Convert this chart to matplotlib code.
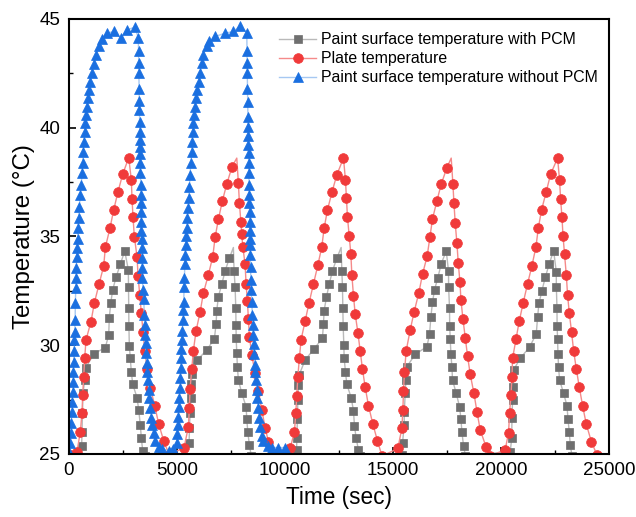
import numpy as np
import matplotlib
matplotlib.use("Agg")
import matplotlib.pyplot as plt
from matplotlib.ticker import MultipleLocator

plt.rcParams['font.family'] = ['Liberation Sans', 'DejaVu Sans']

# Paint surface temperature with PCM (gray squares)
gray_t = [600, 616, 635, 662, 741, 801, 1158, 1695, 1852, 1880, 1945, 2037, 2190, 2389, 2593,
          2760, 2770, 2778, 2786, 2806, 2852, 2898, 2963, 3162, 3241, 3315, 3362, 3426, 3550,
          5570, 5590, 5616, 5649, 5677, 5709, 5954, 6389, 6741, 6820, 6852, 6927, 7084, 7237, 7436, 7621,
          7653, 7700, 7732, 7740, 7750, 7778, 7806, 7852, 8010, 8209, 8241, 8288, 8362, 8450,
          10545, 10556, 10584, 10603, 10631, 10663, 10941, 11357, 11742, 11788, 11820, 11927, 12052, 12205, 12408, 12607,
          12640, 12668, 12686, 12700, 12732, 12747, 12806, 12871, 13070, 13177, 13223, 13302, 13409, 13500,
          15440, 15447, 15524, 15530, 15571, 15603, 15649, 16034, 16576, 16697, 16761, 16834, 16927, 17085, 17237, 17469,
          17575, 17580, 17622, 17630, 17654, 17687, 17733, 17761, 17932, 18085, 18150, 18196, 18270, 18360,
          20432, 20500, 20511, 20540, 20545, 20585, 20896, 21326, 21636, 21697, 21761, 21900, 22053, 22238, 22437,
          22562, 22565, 22594, 22600, 22622, 22640, 22668, 22715, 22900, 23058, 23103, 23164, 23210, 23290]
gray_T = [25.38, 26.03, 26.87, 27.79, 28.4, 28.97, 29.6, 29.89, 30.47, 31.27, 31.93, 32.54, 33.12, 33.72, 34.33,
          33.46, 32.69, 31.7, 30.9, 29.98, 29.4, 28.78, 28.2, 27.59, 27.02, 26.33, 25.72, 25.14, 24.9,
          25.49, 26.18, 26.87, 27.56, 28.2, 28.66, 29.32, 29.78, 30.29, 30.98, 31.59, 32.23, 32.8, 33.41, 34.0, 34.49,
          33.41, 32.69, 31.7, 30.93, 30.32, 29.63, 29.01, 28.4, 27.79, 27.17, 26.61, 26.0, 25.41, 24.9,
          25.18, 25.72, 26.61, 27.48, 28.17, 28.63, 29.32, 29.83, 30.32, 30.98, 31.59, 32.2, 32.8, 33.41, 34.0, 34.49,
          33.41, 32.69, 31.7, 30.89, 30.01, 29.4, 28.78, 28.2, 27.59, 26.99, 26.3, 25.72, 25.18, 24.9,
          24.95, 25.49, 26.33, 26.95, 27.79, 28.4, 29.01, 29.58, 29.93, 30.5, 31.31, 31.97, 32.54, 33.11, 33.74, 34.33,
          33.41, 32.69, 31.7, 30.9, 30.29, 29.6, 28.99, 28.39, 27.79, 27.17, 26.61, 26.0, 25.38, 24.9,
          25.11, 25.72, 26.64, 27.48, 28.09, 28.86, 29.4, 29.91, 30.52, 31.29, 31.93, 32.51, 33.12, 33.74, 34.35,
          33.38, 32.69, 31.7, 30.89, 30.27, 29.6, 28.99, 28.4, 27.79, 27.21, 26.6, 26.0, 25.41, 24.9]
gray_bare = [7621, 12607]

# Plate temperature (red circles)
red_t = [130, 384, 537, 616, 648, 695, 741, 801, 1032, 1185, 1403, 1621, 1695, 1910, 2083, 2283, 2500, 2778,
         2898, 2931, 2977, 3037, 3162, 3209, 3287, 3362, 3440, 3519, 3625, 3778, 3982, 4167, 4398, 4650,
         5338, 5538, 5584, 5616, 5695, 5769, 5894, 6079, 6232, 6463, 6667, 6774, 6927, 7112, 7315, 7561, 7778,
         7852, 7899, 7964, 8010, 8056, 8163, 8209, 8269, 8316, 8362, 8473, 8626, 8778, 8936, 9089, 9241, 9450,
         10246, 10445, 10510, 10556, 10603, 10677, 10755, 10940, 11126, 11325, 11530, 11713, 11820, 11975, 12190, 12408, 12715,
         12806, 12853, 12900, 12978, 13057, 13103, 13177, 13256, 13381, 13487, 13594, 13719, 13872, 14075, 14288, 14500,
         15230, 15417, 15464, 15492, 15538, 15617, 15802, 15987, 16205, 16372, 16589, 16714, 16834, 17038, 17237, 17501, 17700,
         17779, 17826, 17886, 17964, 18025, 18103, 18150, 18242, 18349, 18455, 18580, 18751, 18890, 19043, 19307, 19500,
         20200, 20354, 20400, 20465, 20511, 20540, 20696, 20849, 21034, 21233, 21437, 21622, 21729, 21882, 22099, 22299, 22623,
         22715, 22761, 22826, 22872, 22946, 23025, 23085, 23164, 23270, 23363, 23488, 23627, 23780, 23951, 24183, 24446]
red_T = [24.95, 25.11, 26.0, 26.87, 27.71, 28.55, 29.4, 30.24, 31.08, 31.93, 32.8, 33.64, 34.49, 35.38, 36.22, 37.06, 37.86, 38.62,
         37.6, 36.72, 35.88, 34.99, 34.07, 33.2, 32.31, 31.47, 30.6, 29.74, 28.91, 28.05, 27.21, 26.37, 25.6, 24.95,
         25.29, 26.24, 27.1, 27.99, 28.89, 29.74, 30.66, 31.51, 32.39, 33.23, 34.07, 34.95, 35.79, 36.63, 37.41, 38.21, 38.6,
         37.45, 36.55, 35.68, 35.1, 34.53, 33.72, 32.8, 32.03, 31.21, 30.39, 29.55, 28.71, 27.87, 27.02, 26.21, 25.57, 24.95,
         25.26, 26.0, 26.9, 27.68, 28.55, 29.43, 30.26, 31.11, 31.96, 32.8, 33.68, 34.53, 35.38, 36.22, 37.06, 37.83, 38.6,
         37.6, 36.76, 35.88, 35.04, 34.18, 33.23, 32.28, 31.44, 30.58, 29.74, 28.9, 28.07, 27.22, 26.37, 25.6, 24.9,
         25.25, 26.18, 27.02, 27.91, 28.78, 29.74, 30.7, 31.54, 32.42, 33.26, 34.1, 34.95, 35.8, 36.63, 37.4, 38.16, 38.6,
         37.4, 36.55, 35.6, 34.69, 33.8, 32.92, 32.08, 31.21, 30.35, 29.51, 28.66, 27.79, 26.95, 26.1, 25.34, 24.9,
         25.2, 25.98, 26.87, 27.71, 28.55, 29.4, 30.27, 31.11, 31.96, 32.82, 33.66, 34.52, 35.38, 36.22, 37.06, 37.86, 38.6,
         37.57, 36.72, 35.88, 35.04, 34.18, 33.23, 32.31, 31.47, 30.6, 29.75, 28.91, 28.07, 27.21, 26.37, 25.57, 24.95]
red_bare = [7778, 17700]

# Paint surface temperature without PCM (blue triangles), two cycles only
blue_t = [28, 60, 93, 120, 153, 160, 185, 199, 213, 231, 245, 265, 278, 300, 306, 330, 338, 352, 370, 384, 410,
          431, 463, 491, 537, 583, 616, 648, 676, 695, 741, 769, 801, 847, 894, 954, 1000, 1079, 1158, 1264, 1389,
          1542, 1759, 2111, 2407, 2685, 3070, 3223,
          3232, 3240, 3248, 3256, 3264, 3272, 3280, 3288, 3296, 3304, 3310, 3316, 3322, 3328, 3336, 3344, 3352, 3360,
          3368, 3376, 3384, 3392, 3400, 3410, 3440, 3472, 3500, 3519, 3540, 3555, 3579, 3611, 3625, 3672, 3704,
          3732, 3778, 3824, 3857, 3935, 4010, 4167, 4320, 4630, 4843,
          5000, 5028, 5061, 5075, 5107, 5121, 5153, 5167, 5186, 5200, 5220, 5240, 5260, 5290, 5310, 5320, 5338, 5353,
          5375, 5390, 5417, 5440, 5463, 5491, 5538, 5556, 5584, 5616, 5649, 5695, 5723, 5741, 5769, 5801, 5848, 5894,
          5954, 6019, 6079, 6158, 6232, 6389, 6510, 6778, 7237, 7621, 7931, 8241,
          8250, 8258, 8266, 8274, 8282, 8290, 8298, 8306, 8314, 8322, 8330, 8338, 8346, 8354, 8362, 8370, 8378, 8386,
          8394, 8400, 8406, 8414, 8427, 8441, 8473, 8501, 8519, 8540, 8555, 8579, 8612, 8626, 8672, 8704, 8732, 8778,
          8825, 8857, 8936, 9010, 9241, 9399, 9704, 10015]
blue_T = [25.11, 25.49, 25.95, 26.41, 26.95, 27.41, 27.86, 28.32, 28.78, 29.24, 29.74, 30.24, 30.6, 31.16, 31.93,
          32.65, 33.08, 33.57, 34.07, 34.46, 34.9,
          35.38, 35.84, 36.37, 36.91, 37.37, 37.91, 38.39, 38.9, 39.36, 39.82, 40.2, 40.59, 40.97, 41.35, 41.74, 42.12,
          42.53, 42.93, 43.34, 43.73, 44.07, 44.34, 44.42, 44.11, 44.49, 44.62, 44.11,
          43.5, 42.99, 42.5, 41.77, 41.24, 40.82, 40.28, 39.82, 39.44, 39.1, 38.79, 38.37, 37.91, 37.37, 36.91, 36.53,
          36.14, 35.68, 35.27, 34.9, 34.46, 34.0, 33.54, 33.08, 32.54, 32.13, 31.39, 30.93, 30.47, 30.09, 29.63, 29.17,
          28.78, 28.4, 27.94, 27.56, 27.1, 26.67, 26.33, 25.95, 25.6, 25.34, 25.23, 25.14, 25.23,
          25.49, 25.9, 26.33, 26.71, 27.17, 27.59, 28.02, 28.48, 28.97, 29.4, 29.83, 30.24, 30.66, 31.16, 31.6, 31.97,
          32.69, 33.08, 33.72, 34.15, 34.61, 35.0, 35.38, 35.84, 36.3, 36.76, 37.29, 37.83, 38.37, 38.9, 39.36, 39.82,
          40.2, 40.59, 40.97, 41.35, 41.74, 42.12, 42.53, 42.96, 43.34, 43.73, 43.96, 44.19, 44.34, 44.42, 44.68, 44.37,
          43.5, 42.99, 42.5, 41.77, 41.2, 40.51, 40.05, 39.62, 39.21, 38.82, 38.37, 37.91, 37.37, 36.91, 36.55, 36.14,
          35.68, 35.27, 34.9, 34.61, 34.15, 33.61, 33.0, 32.54, 31.97, 31.39, 30.93, 30.47, 30.04, 29.58, 29.09, 28.78,
          28.4, 27.94, 27.56, 27.1, 26.67, 26.26, 25.84, 25.6, 25.38, 25.29, 25.29, 25.29]

legend_labels = ["Paint surface temperature with PCM", "Plate temperature",
                 "Paint surface temperature without PCM"]


def marked(t, bare):
    # points at the peaks that carry no symbol
    return list(~np.isin(np.asarray(t), bare))


fig = plt.figure(figsize=(6.36, 5.17), dpi=100)
ax = fig.add_axes([0.108, 0.122, 0.8495, 0.8415])

ax.plot(gray_t, gray_T, color="#b9b9b9", lw=1.0, marker="s", ms=5.8,
        mfc="#6f6f6f", mec="#6f6f6f", mew=0.5, markevery=marked(gray_t, gray_bare),
        label=legend_labels[0])
ax.plot(red_t, red_T, color="#f58a8a", lw=1.0, marker="o", ms=7.0,
        mfc="#f03a3a", mec="#f03a3a", mew=0.5, markevery=marked(red_t, red_bare),
        label=legend_labels[1])
ax.plot(blue_t, blue_T, color="#a6c8f2", lw=1.0, marker="^", ms=7.2,
        mfc="#1a6fe0", mec="#1a6fe0", mew=0.5, label=legend_labels[2])

ax.set_xlim(0, 25000)
ax.set_ylim(25, 45)
ax.xaxis.set_major_locator(MultipleLocator(5000))
ax.xaxis.set_minor_locator(MultipleLocator(2500))
ax.yaxis.set_major_locator(MultipleLocator(5))
ax.yaxis.set_minor_locator(MultipleLocator(2.5))
ax.tick_params(which="major", direction="in", length=5, width=1.2, labelsize=13.5, pad=6)
ax.tick_params(which="minor", direction="in", length=3, width=1.0)
for s in ax.spines.values():
    s.set_linewidth(1.5)

ax.set_xlabel("Time (sec)", fontsize=16.3, labelpad=5)
ax.set_ylabel("Temperature (°C)", fontsize=17.4, labelpad=3)

ax.legend(loc="upper left", bbox_to_anchor=(0.39, 0.969), frameon=False, fontsize=11.4,
          handlelength=2.3, handletextpad=0.3, labelspacing=0.25, borderpad=0, borderaxespad=0)

fig.savefig("out.png", dpi=100)
